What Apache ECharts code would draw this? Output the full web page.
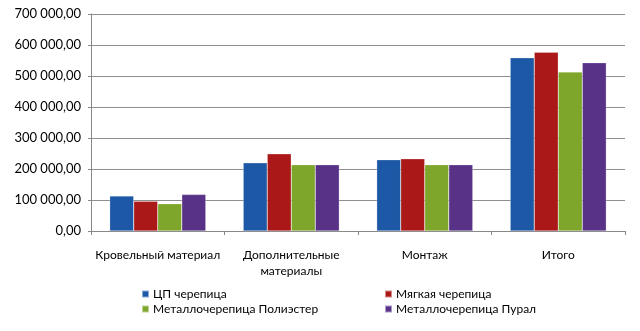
<!DOCTYPE html>
<html><head><meta charset="utf-8">
<script src="https://cdn.jsdelivr.net/npm/echarts@6/dist/echarts.min.js"></script>
<style>html,body{margin:0;padding:0;background:#fff}#c{width:640px;height:331px}</style>
</head><body><div id="c"></div>
<script>
const categories = ['Кровельный материал', 'Дополнительные материалы', 'Монтаж', 'Итого'];
const seriesNames = ['ЦП черепица', 'Мягкая черепица', 'Металлочерепица Полиэстер', 'Металлочерепица Пурал'];
const cp = [113000, 220000, 230000, 559000];
const soft = [96000, 249000, 233000, 577000];
const polyester = [88000, 214000, 214000, 513000];
const pural = [118000, 214000, 214000, 543000];
const colors = ['#1D58A6', '#AB1818', '#7EA62A', '#583287'];
const FONT = 'Lato';

function fmt(v){
  const s = Math.round(v).toString().replace(/\B(?=(\d{3})+(?!\d))/g, ' ');
  return s + ',00';
}
function wrapLabel(v){
  return v.length > 20 ? v.replace(' ', '\n') : v;
}
const chart = echarts.init(document.getElementById('c'), null, {renderer:'canvas'});
const data = [cp, soft, polyester, pural];
const legendText = {fontSize:12, fontFamily:FONT, color:'#000', padding:[0,0,0,-1]};
chart.setOption({
  animation:false,
  textStyle:{fontFamily:FONT},
  grid:{left:91, right:15, top:14, bottom:100, containLabel:false},
  xAxis:{type:'category', data:categories,
    axisLine:{lineStyle:{color:'#888', width:1}},
    axisTick:{show:true, length:4, lineStyle:{color:'#888'}},
    axisLabel:{color:'#000', fontSize:12, fontFamily:FONT, margin:16, lineHeight:16, interval:0, formatter:wrapLabel}
  },
  yAxis:{type:'value', min:0, max:700000, interval:100000,
    axisLine:{show:true, lineStyle:{color:'#888'}},
    axisTick:{show:true, length:3, lineStyle:{color:'#888'}},
    splitLine:{lineStyle:{color:'#8f8f8f', width:1}},
    axisLabel:{color:'#000', fontSize:13, fontFamily:FONT, margin:10, formatter:fmt}
  },
  legend:[
    {data:[seriesNames[0], seriesNames[2]], orient:'vertical', left:136, top:283, itemWidth:7, itemHeight:7, itemGap:3, icon:'rect', textStyle:legendText},
    {data:[seriesNames[1], seriesNames[3]], orient:'vertical', left:379, top:283, itemWidth:7, itemHeight:7, itemGap:3, icon:'rect', textStyle:legendText}
  ],
  series: seriesNames.map((n,i)=>({
    name:n, type:'bar', data:data[i], barGap:'0%', barCategoryGap:'28%',
    itemStyle:{color:colors[i], borderColor:'rgba(255,255,255,0.5)', borderWidth:0.5}
  }))
});
</script></body></html>
